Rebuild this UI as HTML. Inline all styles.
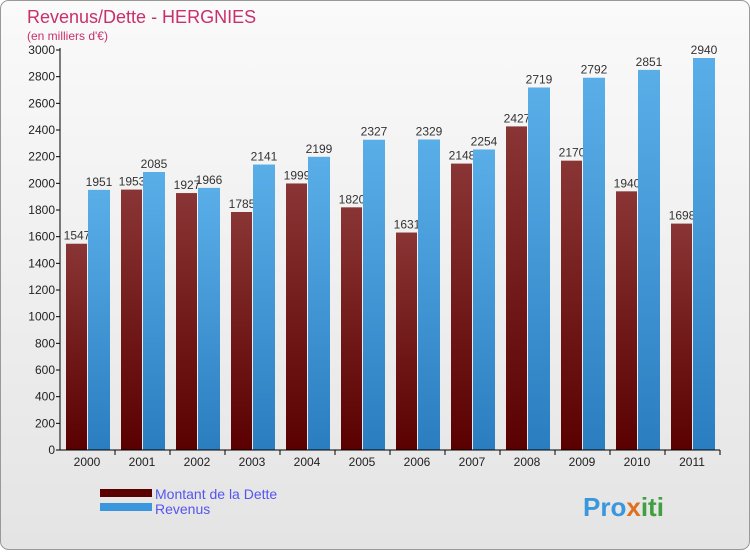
<!DOCTYPE html>
<html><head><meta charset="utf-8"><style>
body{margin:0;width:750px;height:550px;overflow:hidden;font-family:"Liberation Sans",sans-serif}
</style></head><body>
<svg width="750" height="550" xmlns="http://www.w3.org/2000/svg">
<defs>
<linearGradient id="bg" x1="0" y1="0" x2="0" y2="1"><stop offset="0" stop-color="#fafafa"/><stop offset="1" stop-color="#e4e4e4"/></linearGradient>
<linearGradient id="gd" x1="0" y1="0" x2="0" y2="1"><stop offset="0" stop-color="#8a3535"/><stop offset="1" stop-color="#5a0000"/></linearGradient>
<linearGradient id="gr" x1="0" y1="0" x2="0" y2="1"><stop offset="0" stop-color="#5aaee8"/><stop offset="1" stop-color="#2a7ec0"/></linearGradient>
</defs>
<rect x="0.5" y="0.5" width="749" height="549" rx="8" fill="url(#bg)" stroke="#999"/>
<text x="27" y="23" font-size="18" fill="#c8306a">Revenus/Dette - HERGNIES</text>
<text x="27" y="40" font-size="12" fill="#c8306a">(en milliers d'€)</text>
<g id="plot"></g>
<rect x="100" y="489" width="52" height="8" fill="#5a0000"/>
<text x="155" y="499" font-size="14" fill="#5555ee">Montant de la Dette</text>
<rect x="100" y="503" width="52" height="8" fill="#3a96dd"/>
<text x="155" y="514" font-size="14" fill="#5555ee">Revenus</text>
<text x="583" y="516" font-size="26" font-weight="bold" fill="#3a96dd">Pro<tspan fill="#e07020">x</tspan><tspan fill="#40a040">iti</tspan></text>
</svg>
<script>
const years=["2000","2001","2002","2003","2004","2005","2006","2007","2008","2009","2010","2011"];
const dette=[1547,1953,1927,1785,1999,1820,1631,2148,2427,2170,1940,1698];
const revenus=[1951,2085,1966,2141,2199,2327,2329,2254,2719,2792,2851,2940];
const ticks=[0,200,400,600,800,1000,1200,1400,1600,1800,2000,2200,2400,2600,2800,3000];
const NS="http://www.w3.org/2000/svg";
const g=document.getElementById('plot');
const y=v=>450-v*400/3000;
const xc=i=>87+i*55;
function mk(t,a){const e=document.createElementNS(NS,t);for(const k in a)e.setAttribute(k,a[k]);g.appendChild(e);return e;}
ticks.forEach(t=>{
 const l=mk('line',{x1:56,x2:60,y1:y(t),y2:y(t),stroke:'#000'});
 
 
 const tx=mk('text',{x:55,y:y(t)+4,'font-size':12,'text-anchor':'end',fill:'#222'});
 tx.textContent=t;
 
 
});
years.forEach((yr,i)=>{
 const c=xc(i);
 const b1=mk('rect',{x:c-21,y:y(dette[i]),width:21,height:450-y(dette[i]),fill:'url(#gd)'});
 
 
 const t1=mk('text',{x:c-10,y:y(dette[i])-4,'font-size':12,'text-anchor':'middle',fill:'#333'});
 t1.textContent=dette[i];
 
 
 const b2=mk('rect',{x:c+1,y:y(revenus[i]),width:22,height:450-y(revenus[i]),fill:'url(#gr)'});
 
 
 const t2=mk('text',{x:c+12,y:y(revenus[i])-4,'font-size':12,'text-anchor':'middle',fill:'#333'});
 t2.textContent=revenus[i];
 
 
 const tk=mk('line',{x1:c+28,x2:c+28,y1:450,y2:455,stroke:'#000'});
 
 
 const xl=mk('text',{x:c,y:466,'font-size':12,'text-anchor':'middle',fill:'#222'});
 xl.textContent=yr;
 
 
});
const ya=mk('line',{x1:60,x2:60,y1:48,y2:450,stroke:'#000'});


const xa=mk('line',{x1:60,x2:720,y1:450,y2:450,stroke:'#000'});


</script>
</body></html>
